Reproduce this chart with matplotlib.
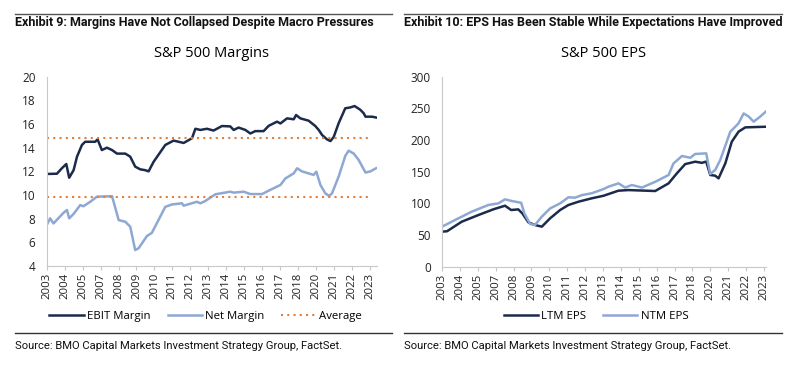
import matplotlib.pyplot as plt
from matplotlib.lines import Line2D

plt.rcParams['font.family'] = ['Open Sans', 'DejaVu Sans']
narrow = ['Roboto', 'DejaVu Sans']

# x positions: 0 = the 2003 label, 19 = the 2023 label (labels evenly spaced between)
year_labels = ['2003', '2004', '2005', '2007', '2008', '2009', '2010', '2011',
               '2012', '2013', '2014', '2015', '2016', '2017', '2018', '2020',
               '2021', '2022', '2023']

ebit_t = [0, 0.6, 0.89, 1.15, 1.32, 1.58, 1.78, 2.07, 2.26, 2.85, 2.99, 3.24,
          3.54, 3.84, 4.13, 4.62, 4.91, 5.2, 5.5, 5.79, 5.99, 6.28, 6.97, 7.46,
          8.05, 8.54, 8.74, 9.03, 9.42, 9.81, 10.3, 10.79, 10.99, 11.28, 11.68,
          11.97, 12.26, 12.75, 13.05, 13.54, 13.74, 14.13, 14.52, 14.66, 14.91,
          15.4, 15.79, 15.99, 16.19, 16.48, 16.68, 16.87, 17.16, 17.55, 17.84,
          18.1, 18.44, 18.64, 18.74, 19.13, 19.36]
ebit_v = [11.78, 11.8, 12.26, 12.62, 11.46, 12.1, 13.24, 14.23, 14.5, 14.5, 14.7,
          13.8, 14.0, 13.8, 13.5, 13.5, 13.24, 12.4, 12.17, 12.1, 12.0, 12.8,
          14.23, 14.6, 14.4, 14.8, 15.6, 15.5, 15.6, 15.45, 15.83, 15.8, 15.5,
          15.7, 15.5, 15.2, 15.4, 15.4, 15.85, 16.2, 16.05, 16.48, 16.4, 16.76,
          16.48, 16.28, 15.83, 15.5, 15.07, 14.7, 14.56, 14.9, 16.06, 17.33, 17.4,
          17.52, 17.2, 16.9, 16.62, 16.62, 16.55]

net_t = [0, 0.2, 0.4, 0.99, 1.19, 1.32, 1.58, 1.97, 2.16, 2.56, 2.95, 3.84, 4.23,
         4.62, 4.91, 5.2, 5.4, 5.89, 6.18, 6.97, 7.36, 7.95, 8.05, 8.83, 9.03,
         9.32, 9.91, 10.79, 10.99, 11.58, 11.97, 12.66, 13.05, 13.74, 14.03,
         14.52, 14.72, 15.0, 15.69, 15.85, 16.09, 16.38, 16.6, 16.77, 17.16,
         17.55, 17.75, 18.05, 18.34, 18.74, 19.03, 19.36]
net_v = [7.46, 8.03, 7.6, 8.5, 8.73, 8.03, 8.4, 9.15, 9.05, 9.43, 9.86, 9.9, 7.88,
         7.74, 7.32, 5.35, 5.5, 6.53, 6.8, 9.0, 9.2, 9.3, 9.1, 9.43, 9.3, 9.49,
         10.06, 10.28, 10.2, 10.28, 10.08, 10.08, 10.37, 10.85, 11.4, 11.83,
         12.26, 12.0, 11.7, 11.97, 10.85, 10.14, 9.92, 10.14, 11.55, 13.3, 13.75,
         13.5, 12.96, 11.9, 12.0, 12.26]

ebit_avg = 14.8
net_avg = 9.8

ltm_t = [0, 0.3, 1.16, 2.15, 3.03, 3.72, 4.08, 4.5, 4.74, 5.1, 5.49, 5.89, 6.38,
         6.97, 7.46, 8.05, 8.84, 9.53, 10.41, 11.0, 12.58, 13.37, 13.86, 14.35,
         14.94, 15.34, 15.59, 15.83, 16.12, 16.32, 16.72, 17.1, 17.5, 17.9, 19.1]
ltm_v = [55.3, 56, 71, 81.6, 90.6, 96.3, 89.5, 90.5, 84.2, 70, 65.8, 63.2, 76.4,
         89.5, 97.4, 102.6, 108, 112, 120, 121, 119.5, 131.6, 147.4, 162, 165.8,
         164, 166, 144.8, 143.7, 139.5, 163.3, 197.4, 213.2, 220, 221]

ntm_t = [0, 0.77, 1.75, 2.73, 3.33, 3.72, 4.12, 4.67, 4.86, 5.2, 5.49, 5.89, 6.38,
         6.97, 7.46, 7.85, 8.25, 8.84, 9.53, 9.82, 10.41, 10.81, 11.2, 11.8,
         12.58, 13.37, 13.66, 14.16, 14.65, 14.94, 15.59, 15.83, 16.12, 16.42,
         17.01, 17.5, 17.8, 18.1, 18.39, 18.78, 19.1]
ntm_v = [63.2, 73.7, 86.8, 97.4, 100, 106.4, 103.7, 101, 84.2, 67.4, 66, 79, 92,
         100, 109.6, 109, 113, 116, 122.6, 126.3, 131.6, 125, 129, 125, 134,
         144.8, 163, 174.8, 172, 178, 179, 146.4, 152.7, 168.5, 213, 226.4, 242,
         237, 229, 237, 244.7]

navy = '#1c2b4b'
light = '#8ea8d4'
orange = '#e0803c'
grey = '#c8c8c8'

fig = plt.figure(figsize=(8, 3.67), dpi=100)


def style_axes(ax, xmax):
    ax.set_xlim(0, xmax)
    n = len(year_labels)
    ax.set_xticks([k * 19 / (n - 1) for k in range(n)])
    ax.set_xticklabels(year_labels, rotation=90, fontsize=8.2, color='#222222')
    ax.tick_params(axis='x', length=3, color=grey, pad=2)
    ax.tick_params(axis='y', length=0, labelsize=8.5, labelcolor='#222222', pad=8)
    for s in ['top', 'right']:
        ax.spines[s].set_visible(False)
    for s in ['left', 'bottom']:
        ax.spines[s].set_color(grey)
        ax.spines[s].set_linewidth(0.8)


# left panel: margins
ax1 = fig.add_axes([0.0584, 0.2752, 0.4125, 0.5158])
ax1.plot(ebit_t, ebit_v, color=navy, lw=1.8, label='EBIT Margin')
ax1.plot(net_t, net_v, color=light, lw=1.8, label='Net Margin')
ax1.plot([0, 19.13], [ebit_avg, ebit_avg], color=orange, lw=1.5, ls=(0, (1, 2)))
ax1.plot([0, 19.13], [net_avg, net_avg], color=orange, lw=1.5, ls=(0, (1, 2)),
         label='Average')
ax1.set_ylim(4, 20)
ax1.set_yticks(range(4, 21, 2))
style_axes(ax1, 19.4)
ax1.set_title('S&P 500 Margins', fontsize=10.5, pad=14)

# right panel: EPS
ax2 = fig.add_axes([0.5525, 0.2733, 0.4046, 0.5177])
ax2.plot(ltm_t, ltm_v, color=navy, lw=1.8, label='LTM EPS')
ax2.plot(ntm_t, ntm_v, color=light, lw=1.8, label='NTM EPS')
ax2.set_ylim(0, 300)
ax2.set_yticks(range(0, 301, 50))
style_axes(ax2, 19.1)
ax2.set_title('S&P 500 EPS', fontsize=10.5, pad=14)

leg_kw = dict(frameon=False, fontsize=8.2, handlelength=3.0, columnspacing=1.5,
              handletextpad=0.3, loc='center')
ax1.legend(ncol=3, bbox_to_anchor=(0.257, 0.138), bbox_transform=fig.transFigure, **leg_kw)
ax2.legend(ncol=2, bbox_to_anchor=(0.745, 0.138), bbox_transform=fig.transFigure, **leg_kw)

# exhibit headers, rules and source notes
for x0, x1, title in [(0.019, 0.49, 'Exhibit 9: Margins Have Not Collapsed Despite Macro Pressures'),
                      (0.505, 0.978, 'Exhibit 10: EPS Has Been Stable While Expectations Have Improved')]:
    fig.add_artist(Line2D([x0, x1], [0.962, 0.962], color='#555555', lw=1.0))
    fig.add_artist(Line2D([x0, x1], [0.093, 0.093], color='#333333', lw=1.0))
    fig.text(x0, 0.94, title, fontsize=9, fontweight='bold', va='center',
             color='#111111', family=narrow)
    fig.text(x0, 0.058, 'Source: BMO Capital Markets Investment Strategy Group, FactSet.',
             fontsize=8.1, va='center', color='#111111', family=narrow)

fig.savefig('out.png', dpi=100)
